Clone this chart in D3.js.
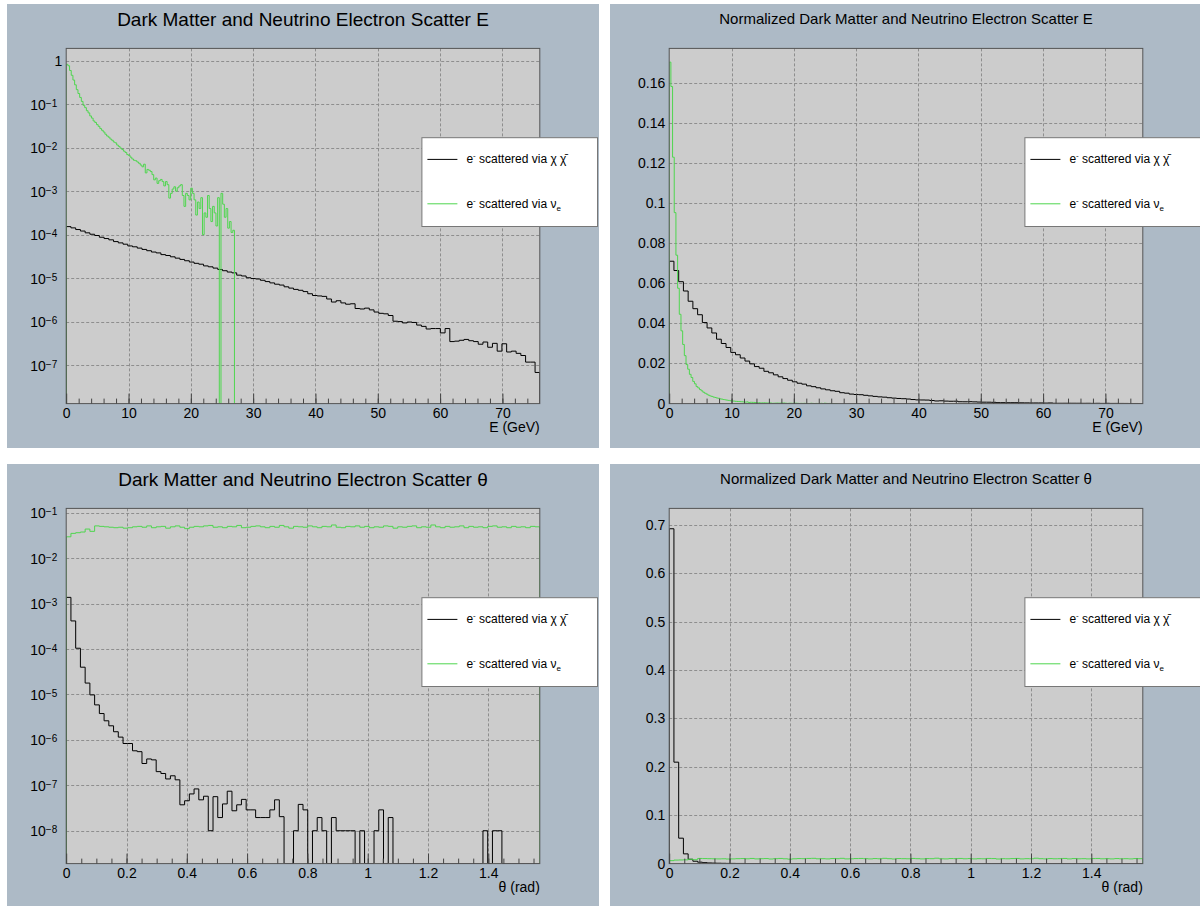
<!DOCTYPE html>
<html>
<head>
<meta charset="utf-8">
<script src="https://cdn.jsdelivr.net/npm/d3@7"></script>
<style>
	body { margin: 0; background: #fff; }
	svg { display: block; font-family: 'Liberation Sans', Arial, Helvetica, sans-serif; }
</style>
</head>
<body>
<div id="chart"></div>
<script>

// ---------- data ----------
// each histogram has 100 equal bins over its range
const energyChiRange = [0, 76]          // GeV, e- via chi chibar
const energyNuRange = [0, 27]           // GeV, e- via nu_e
const thetaRange = [0, Math.PI / 2]     // rad, both samples

// e- energy, dark matter sample
const energyChi = [
	1.53e-4, 1.43e-4, 1.31e-4, 1.21e-4, 1.10e-4, 1.02e-4, 9.55e-5, 8.71e-5, 8.13e-5, 7.59e-5,
	6.92e-5, 6.46e-5, 6.03e-5, 5.50e-5, 5.25e-5, 4.90e-5, 4.57e-5, 4.27e-5, 3.98e-5, 3.80e-5,
	3.47e-5, 3.31e-5, 3.09e-5, 2.88e-5, 2.69e-5, 2.51e-5, 2.34e-5, 2.19e-5, 2.09e-5, 1.91e-5,
	1.82e-5, 1.70e-5, 1.58e-5, 1.48e-5, 1.38e-5, 1.32e-5, 1.17e-5, 1.12e-5, 1.02e-5, 9.77e-6,
	9.55e-6, 8.91e-6, 8.32e-6, 7.76e-6, 7.24e-6, 6.92e-6, 6.31e-6, 5.89e-6, 5.50e-6, 5.25e-6,
	4.90e-6, 4.37e-6, 3.98e-6, 3.89e-6, 3.80e-6, 3.31e-6, 2.82e-6, 3.02e-6, 2.69e-6, 2.51e-6,
	2.57e-6, 2.00e-6, 1.95e-6, 2.04e-6, 1.86e-6, 1.66e-6, 1.55e-6, 1.51e-6, 1.38e-6, 1.02e-6,
	1.00e-6, 9.33e-7, 9.77e-7, 9.55e-7, 8.32e-7, 7.76e-7, 6.76e-7, 6.92e-7, 6.92e-7, 5.50e-7,
	6.92e-7, 3.47e-7, 3.55e-7, 3.72e-7, 3.89e-7, 3.63e-7, 3.47e-7, 3.02e-7, 3.39e-7, 2.57e-7,
	3.16e-7, 2.09e-7, 3.09e-7, 2.00e-7, 2.09e-7, 1.86e-7, 1.66e-7, 1.17e-7, 1.17e-7, 6.76e-8
]

// e- energy, neutrino sample
const energyNu = [
	0.826, 0.767, 0.596, 0.462, 0.359, 0.279, 0.216, 0.176, 0.143, 0.116,
	0.0944, 0.0832, 0.0708, 0.0631, 0.0537, 0.0479, 0.0412, 0.0380, 0.0339, 0.0309,
	0.0275, 0.0251, 0.0229, 0.0204, 0.0186, 0.0174, 0.0158, 0.0148, 0.0135, 0.0129,
	0.0115, 0.0107, 0.00977, 0.00912, 0.00832, 0.00776, 0.00692, 0.00661, 0.00603, 0.00550,
	0.00513, 0.00501, 0.00468, 0.00437, 0.00398, 0.00363, 0.00417, 0.00263, 0.00316, 0.00302,
	0.00282, 0.00240, 0.00182, 0.00200, 0.00151, 0.00174, 0.00186, 0.00166, 0.00132, 0.00166,
	0.00141, 6.92e-4, 8.91e-4, 0.00112, 0.00126, 0.00100, 0.00120, 0.00132, 0.00141, 7.94e-4,
	4.47e-4, 8.91e-4, 7.94e-4, 6.31e-4, 0.00117, 8.91e-4, 6.31e-4, 2.82e-4, 5.62e-4, 3.98e-4,
	7.08e-4, 1.00e-4, 3.16e-4, 2.51e-4, 7.94e-4, 3.98e-4, 2.00e-4, 4.47e-4, 3.16e-4, 1.58e-4,
	7.08e-4, 0, 8.91e-4, 5.01e-4, 2.51e-4, 3.98e-4, 1.41e-4, 2.00e-4, 1.12e-4, 1.26e-4
]

// e- angle, dark matter sample
const thetaChi = [
	1.37e-3, 4.15e-4, 1.04e-4, 3.98e-5, 1.78e-5, 9.77e-6, 5.89e-6, 3.80e-6, 2.63e-6, 2.04e-6,
	1.51e-6, 1.15e-6, 8.32e-7, 8.32e-7, 5.75e-7, 5.50e-7, 3.02e-7, 3.80e-7, 3.63e-7, 2.00e-7,
	1.82e-7, 1.38e-7, 1.62e-7, 1.32e-7, 3.72e-8, 4.57e-8, 6.46e-8, 8.32e-8, 4.79e-8, 5.75e-8,
	1.00e-8, 5.62e-8, 1.95e-8, 3.89e-8, 7.41e-8, 2.75e-8, 3.72e-8, 4.90e-8, 2.88e-8, 2.88e-8,
	1.95e-8, 1.95e-8, 1.95e-8, 2.88e-8, 4.79e-8, 2.04e-8, 0, 0, 1.00e-8, 3.80e-8,
	2.88e-8, 0, 1.00e-8, 1.95e-8, 1.00e-8, 0, 1.95e-8, 1.00e-8, 1.00e-8, 1.00e-8,
	1.00e-8, 0, 1.00e-8, 0, 0, 1.00e-8, 2.88e-8, 0, 1.95e-8, 0,
	0, 0, 0, 0, 0, 0, 0, 0, 0, 0,
	0, 0, 0, 0, 0, 0, 0, 0, 1.00e-8, 0,
	1.00e-8, 1.00e-8, 0, 0, 0, 0, 0, 0, 0, 0
]

// e- angle, neutrino sample
const thetaNu = [
	0.0295, 0.0351, 0.0363, 0.0376, 0.0437, 0.0389, 0.0513, 0.0501, 0.0490, 0.0479,
	0.0468, 0.0479, 0.0457, 0.0468, 0.0490, 0.0501, 0.0479, 0.0513, 0.0468, 0.0490,
	0.0501, 0.0457, 0.0490, 0.0513, 0.0479, 0.0446, 0.0479, 0.0501, 0.0490, 0.0513,
	0.0525, 0.0479, 0.0490, 0.0468, 0.0501, 0.0490, 0.0525, 0.0468, 0.0479, 0.0501,
	0.0513, 0.0490, 0.0468, 0.0501, 0.0479, 0.0525, 0.0490, 0.0457, 0.0501, 0.0490,
	0.0479, 0.0513, 0.0490, 0.0468, 0.0501, 0.0490, 0.0537, 0.0479, 0.0468, 0.0501,
	0.0490, 0.0513, 0.0479, 0.0501, 0.0468, 0.0490, 0.0479, 0.0513, 0.0501, 0.0457,
	0.0490, 0.0479, 0.0501, 0.0513, 0.0468, 0.0490, 0.0479, 0.0537, 0.0490, 0.0468,
	0.0501, 0.0479, 0.0490, 0.0513, 0.0468, 0.0501, 0.0479, 0.0490, 0.0468, 0.0501,
	0.0513, 0.0479, 0.0490, 0.0468, 0.0501, 0.0479, 0.0490, 0.0468, 0.0501, 0.0490
]

// axis ticks
const energyTicks = [0, 10, 20, 30, 40, 50, 60, 70]
const thetaTicks = [0, 0.2, 0.4, 0.6, 0.8, 1, 1.2, 1.4]
const logTicksEnergy = [1e-7, 1e-6, 1e-5, 1e-4, 1e-3, 1e-2, 1e-1, 1]
const logTicksTheta = [1e-8, 1e-7, 1e-6, 1e-5, 1e-4, 1e-3, 1e-2, 1e-1]
const normTicksEnergy = [0, 0.02, 0.04, 0.06, 0.08, 0.1, 0.12, 0.14, 0.16]
const normTicksTheta = [0, 0.1, 0.2, 0.3, 0.4, 0.5, 0.6, 0.7]

const titles = [
	'Dark Matter and Neutrino Electron Scatter E',
	'Normalized Dark Matter and Neutrino Electron Scatter E',
	'Dark Matter and Neutrino Electron Scatter \u03b8',
	'Normalized Dark Matter and Neutrino Electron Scatter \u03b8'
]

// ---------- drawing ----------
const width = 1200
const height = 906
const padW = 592
const padH = 444
const padColor = '#adbac6'
const frameColor = '#cccccc'
const chiColor = '#000000'
const nuColor = '#4fd64f'

const svg = d3.select('#chart').append('svg')
	.attr('width', width)
	.attr('height', height)

svg.append('rect').attr('width', width).attr('height', height).attr('fill', '#fff')

function normalize(vals) {
	const s = d3.sum(vals)
	return vals.map(v => v / s)
}

// step outline of a histogram, like ROOT "HIST"
function histPath(vals, range, x, y, base) {
	const w = (range[1] - range[0]) / vals.length
	const pts = [[x(range[0]), base]]
	vals.forEach((v, i) => {
		pts.push([x(range[0] + i * w), v > 0 ? y(v) : base])
	})
	pts.push([x(range[1]), vals[vals.length - 1] > 0 ? y(vals[vals.length - 1]) : base])
	pts.push([x(range[1]), base])
	return d3.line().curve(d3.curveStepAfter)(pts)
}

function drawPad(p, idx) {
	const g = svg.append('g').attr('transform', `translate(${p.x},${p.y})`)
	g.append('rect').attr('width', padW).attr('height', padH).attr('fill', padColor)

	const fx0 = 0.1 * padW, fx1 = 0.9 * padW
	const fy0 = 0.1 * padH, fy1 = 0.9 * padH

	const x = d3.scaleLinear().domain(p.xDomain).range([fx0, fx1])
	const y = (p.log ? d3.scaleLog() : d3.scaleLinear())
		.domain(p.yDomain).range([fy1, fy0]).clamp(true)

	// frame
	g.append('rect')
		.attr('x', fx0).attr('y', fy0)
		.attr('width', fx1 - fx0).attr('height', fy1 - fy0)
		.attr('fill', frameColor)

	// grid
	const grid = g.append('g')
		.attr('stroke', '#8e8e8e')
		.attr('stroke-width', 1)
		.attr('stroke-dasharray', '3,2')
	grid.selectAll('.gx')
		.data(p.xTicks.filter(t => t > p.xDomain[0]))
		.enter().append('line')
		.attr('x1', d => Math.round(x(d)) + 0.5).attr('x2', d => Math.round(x(d)) + 0.5)
		.attr('y1', fy0).attr('y2', fy1)
	grid.selectAll('.gy')
		.data(p.yTicks.filter(t => t > p.yDomain[0] && t > 0))
		.enter().append('line')
		.attr('x1', fx0).attr('x2', fx1)
		.attr('y1', d => Math.round(y(d)) + 0.5).attr('y2', d => Math.round(y(d)) + 0.5)

	// histograms
	const clipId = 'clip' + idx
	g.append('clipPath').attr('id', clipId)
		.append('rect')
		.attr('x', fx0).attr('y', fy0 - 1)
		.attr('width', fx1 - fx0).attr('height', fy1 - fy0 + 1)

	const chiVals = p.norm ? normalize(p.chi) : p.chi
	const nuVals = p.norm ? normalize(p.nu) : p.nu
	const hg = g.append('g').attr('clip-path', `url(#${clipId})`)
	hg.append('path')
		.attr('d', histPath(chiVals, p.chiRange, x, y, fy1))
		.attr('fill', 'none').attr('stroke', chiColor).attr('stroke-width', 1)
	hg.append('path')
		.attr('d', histPath(nuVals, p.nuRange, x, y, fy1))
		.attr('fill', 'none').attr('stroke', nuColor).attr('stroke-width', 1)

	// frame border
	g.append('rect')
		.attr('x', fx0).attr('y', fy0)
		.attr('width', fx1 - fx0).attr('height', fy1 - fy0)
		.attr('fill', 'none').attr('stroke', '#555').attr('stroke-width', 1)

	// x axis: major + minor ticks pointing into the frame
	const gx = g.append('g')
		.attr('transform', `translate(0,${fy1})`)
		.call(d3.axisBottom(x).tickValues(p.xTicks).tickSize(-10).tickPadding(4)
			.tickFormat(d => String(+d.toFixed(2))))
	gx.select('.domain').remove()
	gx.attr('font-size', 14).attr('font-family', null).attr('color', '#444')
	gx.selectAll('text').attr('fill', '#000')

	const gxm = g.append('g')
		.attr('transform', `translate(0,${fy1})`)
		.call(d3.axisBottom(x).tickValues(p.xMinor).tickSize(-5).tickFormat(''))
	gxm.select('.domain').remove()
	gxm.attr('color', '#444')

	// y axis: labels only, the grid marks the values
	const gy = g.append('g')
		.attr('transform', `translate(${fx0},0)`)
		.call(d3.axisLeft(y).tickValues(p.yTicks).tickSize(0).tickPadding(4)
			.tickFormat(d => p.log ? '' : String(+d.toFixed(2))))
	gy.select('.domain').remove()
	gy.selectAll('.tick line').remove()
	gy.attr('font-size', 14).attr('font-family', null)
	gy.selectAll('text').attr('fill', '#000')

	if (p.log) {
		gy.selectAll('.tick text').each(function(d) {
			const e = Math.round(Math.log10(d))
			const t = d3.select(this)
			if (e === 0) {
				t.text('1')
				return
			}
			t.attr('x', -9).attr('dy', '0.36em')
			t.append('tspan').text('10')
			t.append('tspan').attr('font-size', 10).attr('dy', -3).text('\u2212' + Math.abs(e))
		})
	}

	// axis title
	g.append('text')
		.attr('x', fx1).attr('y', 428)
		.attr('text-anchor', 'end')
		.attr('font-size', 14)
		.text(p.xTitle)

	// pad title
	g.append('text')
		.attr('x', padW / 2).attr('y', p.titleY)
		.attr('text-anchor', 'middle')
		.attr('font-size', p.titleSize)
		.text(p.title)

	// legend
	const lx = 0.7 * padW, ly = 0.3 * padH
	const lg = g.append('g')
	lg.append('rect')
		.attr('x', lx + 0.5).attr('y', ly + 0.5)
		.attr('width', 0.3 * padW - 2).attr('height', 0.2 * padH)
		.attr('fill', '#fff').attr('stroke', '#777').attr('stroke-width', 1)

	const entries = [
		{ color: chiColor, kind: 'chi' },
		{ color: nuColor, kind: 'nu' }
	]
	entries.forEach((en, i) => {
		const yy = ly + 0.2 * padH * (0.25 + 0.5 * i)
		lg.append('line')
			.attr('x1', lx + 6).attr('x2', lx + 36)
			.attr('y1', yy).attr('y2', yy)
			.attr('stroke', en.color).attr('stroke-width', 1)
		const t = lg.append('text')
			.attr('x', lx + 45).attr('y', yy + 4)
			.attr('font-size', 12)
		t.append('tspan').text('e')
		t.append('tspan').attr('font-size', 8).attr('dy', -5).text('-')
		if (en.kind === 'chi') {
			t.append('tspan').attr('dy', 5).text(' scattered via \u03c7 \u03c7\u0304')
		} else {
			t.append('tspan').attr('dy', 5).text(' scattered via \u03bd')
			t.append('tspan').attr('font-size', 8).attr('dy', 3).text('e')
		}
	})
}

const padConfigs = [
	{
		x: 7, y: 4, title: titles[0], titleSize: 19, titleY: 22,
		chi: energyChi, nu: energyNu, chiRange: energyChiRange, nuRange: energyNuRange,
		xDomain: energyChiRange, xTicks: energyTicks, xMinor: d3.range(2, 76, 2), xTitle: 'E (GeV)',
		log: true, norm: false, yDomain: [1.30e-8, 1.92], yTicks: logTicksEnergy
	},
	{
		x: 610, y: 4, title: titles[1], titleSize: 15, titleY: 20,
		chi: energyChi, nu: energyNu, chiRange: energyChiRange, nuRange: energyNuRange,
		xDomain: energyChiRange, xTicks: energyTicks, xMinor: d3.range(2, 76, 2), xTitle: 'E (GeV)',
		log: false, norm: true, yDomain: [0, 0.1771], yTicks: normTicksEnergy
	},
	{
		x: 7, y: 464, title: titles[2], titleSize: 19, titleY: 22,
		chi: thetaChi, nu: thetaNu, chiRange: thetaRange, nuRange: thetaRange,
		xDomain: thetaRange, xTicks: thetaTicks, xMinor: d3.range(0.05, 1.57, 0.05), xTitle: '\u03b8 (rad)',
		log: true, norm: false, yDomain: [1.89e-9, 0.1245], yTicks: logTicksTheta
	},
	{
		x: 610, y: 464, title: titles[3], titleSize: 15, titleY: 20,
		chi: thetaChi, nu: thetaNu, chiRange: thetaRange, nuRange: thetaRange,
		xDomain: thetaRange, xTicks: thetaTicks, xMinor: d3.range(0.05, 1.57, 0.05), xTitle: '\u03b8 (rad)',
		log: false, norm: true, yDomain: [0, 0.7343], yTicks: normTicksTheta
	}
]

padConfigs.forEach((p, i) => drawPad(p, i))

</script>
</body>
</html>
